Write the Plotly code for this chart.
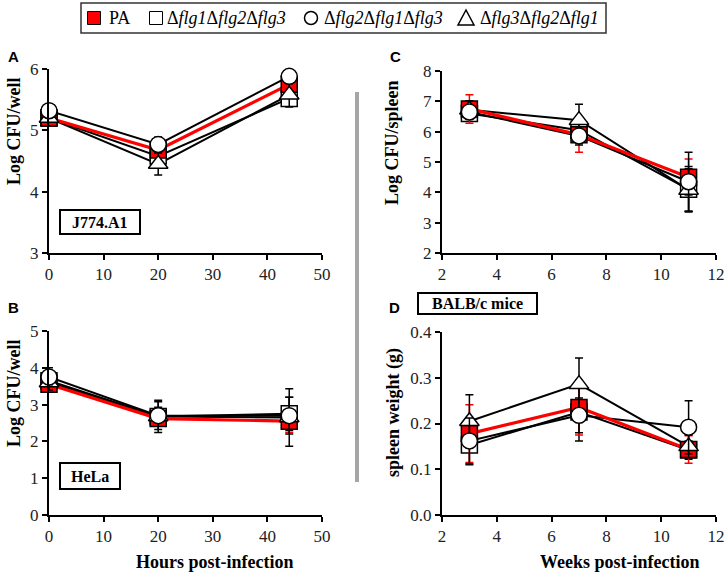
import plotly.graph_objects as go

W, H = 726, 573

# ---------------- data ----------------
series_names = ["PA", "Δ<i>flg1</i>Δ<i>flg2</i>Δ<i>flg3</i>",
                "Δ<i>flg2</i>Δ<i>flg1</i>Δ<i>flg3</i>", "Δ<i>flg3</i>Δ<i>flg2</i>Δ<i>flg1</i>"]

hours = [0, 20, 44]
weeks = [3, 7, 11]

# Panel A: J774.A1, Log CFU/well
a_pa = [5.20, 4.68, 5.75]
a_sq = [5.20, 4.58, 5.52]
a_ci = [5.32, 4.77, 5.88]
a_tr = [5.20, 4.45, 5.58]
a_pa_err = [0.08, 0.10, 0.10]
a_sq_err = [0.05, 0.10, 0.12]
a_ci_err = [0.05, 0.12, 0.10]
a_tr_err = [0.05, 0.18, 0.20]

# Panel B: HeLa, Log CFU/well
b_pa = [3.55, 2.62, 2.55]
b_sq = [3.65, 2.68, 2.75]
b_ci = [3.75, 2.70, 2.70]
b_tr = [3.60, 2.68, 2.65]
b_pa_err = [0.10, 0.20, 0.30]
b_sq_err = [0.15, 0.25, 0.45]
b_ci_err = [0.25, 0.38, 0.50]
b_tr_err = [0.20, 0.44, 0.78]

# Panel C: Log CFU/spleen
c_pa = [6.75, 5.90, 4.50]
c_sq = [6.60, 6.05, 4.10]
c_ci = [6.65, 5.86, 4.35]
c_tr = [6.72, 6.38, 4.08]
c_pa_err = [0.47, 0.58, 0.60]
c_sq_err = [0.20, 0.30, 0.75]
c_ci_err = [0.20, 0.30, 0.97]
c_tr_err = [0.30, 0.52, 0.70]

# Panel D: spleen weight (g)
d_pa = [0.178, 0.235, 0.143]
d_sq = [0.153, 0.225, 0.142]
d_ci = [0.162, 0.218, 0.192]
d_tr = [0.205, 0.286, 0.150]
d_pa_err = [0.063, 0.060, 0.030]
d_sq_err = [0.043, 0.063, 0.020]
d_ci_err = [0.050, 0.038, 0.058]
d_tr_err = [0.058, 0.057, 0.025]

# ---------------- styles ----------------
RED = "#ff0000"
styles = [
    dict(symbol="square", color=RED, size=16, line=RED, lw=3.2, ecol=RED),
    dict(symbol="square", color="white", size=16, line="black", lw=2, ecol="black"),
    dict(symbol="circle", color="white", size=16, line="black", lw=2, ecol="black"),
    dict(symbol="triangle-up", color="white", size=17, line="black", lw=2, ecol="black"),
]
draw_order = [1, 0, 3, 2]

fig = go.Figure()

def px_x(p):
    return p / W

def px_y(p):
    return 1 - p / H

panels = [
    dict(xa="x", ya="y", x=hours, data=[a_pa, a_sq, a_ci, a_tr], err=[a_pa_err, a_sq_err, a_ci_err, a_tr_err]),
    dict(xa="x2", ya="y2", x=hours, data=[b_pa, b_sq, b_ci, b_tr], err=[b_pa_err, b_sq_err, b_ci_err, b_tr_err]),
    dict(xa="x3", ya="y3", x=weeks, data=[c_pa, c_sq, c_ci, c_tr], err=[c_pa_err, c_sq_err, c_ci_err, c_tr_err]),
    dict(xa="x4", ya="y4", x=weeks, data=[d_pa, d_sq, d_ci, d_tr], err=[d_pa_err, d_sq_err, d_ci_err, d_tr_err]),
]

for pi, p in enumerate(panels):
    for si in [1, 2, 3, 0]:
        st = styles[si]
        fig.add_trace(go.Scatter(x=p["x"], y=p["data"][si], mode="lines", xaxis=p["xa"], yaxis=p["ya"],
                                 line=dict(color=st["line"], width=st["lw"]),
                                 showlegend=False, hoverinfo="skip", cliponaxis=False))
    for si in draw_order:
        st = styles[si]
        fig.add_trace(go.Scatter(
            x=p["x"], y=p["data"][si], mode="markers", xaxis=p["xa"], yaxis=p["ya"],
            name=series_names[si], showlegend=False,
            marker=dict(symbol=st["symbol"], size=st["size"], color=st["color"],
                        line=dict(color="black", width=1.5)),
            error_y=dict(type="data", array=p["err"][si], color=st["ecol"], thickness=1.5, width=4),
            cliponaxis=False))

axis_common = dict(showline=True, linecolor="black", linewidth=2, ticks="outside", ticklen=5,
                   tickwidth=2, tickcolor="black", showgrid=False, zeroline=False, automargin=False,
                   tickfont=dict(family="Liberation Serif", size=17, color="#222"))

xl = [px_x(49), px_x(322)]
xr = [px_x(442), px_x(716)]
fig.update_layout(
    xaxis=dict(domain=xl, range=[0, 50], dtick=10, anchor="y", **axis_common),
    yaxis=dict(domain=[px_y(253), px_y(69)], range=[3, 6], dtick=1, anchor="x", **axis_common),
    xaxis2=dict(domain=xl, range=[0, 50], dtick=10, anchor="y2", **axis_common),
    yaxis2=dict(domain=[px_y(515), px_y(331)], range=[0, 5], dtick=1, anchor="x2", **axis_common),
    xaxis3=dict(domain=xr, range=[2, 12], dtick=2, anchor="y3", **axis_common),
    yaxis3=dict(domain=[px_y(253), px_y(71)], range=[2, 8], dtick=1, anchor="x3", **axis_common),
    xaxis4=dict(domain=xr, range=[2, 12], dtick=2, anchor="y4", **axis_common),
    yaxis4=dict(domain=[px_y(515), px_y(332)], range=[0, 0.4], dtick=0.1, tickformat=".1f", anchor="x4", **axis_common),
)

fig.update_layout(
    width=W, height=H, margin=dict(l=0, r=0, t=0, b=0),
    paper_bgcolor="white", plot_bgcolor="white", showlegend=False,
)

ann = []
shapes = []
title_font = dict(family="Liberation Serif", size=18, color="black")
# y-axis titles
ann.append(dict(text="<b>Log CFU/well</b>", x=px_x(14), y=px_y(131), textangle=-90, font=title_font))
ann.append(dict(text="<b>Log CFU/well</b>", x=px_x(14), y=px_y(393), textangle=-90, font=title_font))
ann.append(dict(text="<b>Log CFU/spleen</b>", x=px_x(392), y=px_y(143), textangle=-90, font=title_font))
ann.append(dict(text="<b>spleen weight (g)</b>", x=px_x(393), y=px_y(413), textangle=-90, font=title_font))
# x-axis titles
ann.append(dict(text="<b>Hours post-infection</b>", x=px_x(215), y=px_y(562), font=title_font))
ann.append(dict(text="<b>Weeks post-infection</b>", x=px_x(620), y=px_y(562), font=title_font))
# panel letters
letter_font = dict(family="Liberation Sans", size=15, color="black")
for t, x, y in [("A", 13, 57), ("B", 13, 307), ("C", 395, 57), ("D", 394, 307)]:
    ann.append(dict(text="<b>%s</b>" % t, x=px_x(x), y=px_y(y), font=letter_font))
# boxed labels
box_font = dict(family="Liberation Serif", size=16, color="black")
for t, x0, x1, y0, y1 in [("J774.A1", 60, 140, 210, 234), ("HeLa", 60, 120, 463, 489),
                          ("BALB/c mice", 418, 537, 293, 314)]:
    ann.append(dict(text="<b>%s</b>" % t, x=px_x((x0 + x1) / 2), y=px_y((y0 + y1) / 2), font=box_font))
    shapes.append(dict(type="rect", xref="paper", yref="paper", x0=px_x(x0), x1=px_x(x1),
                       y0=px_y(y1), y1=px_y(y0), line=dict(color="black", width=2), fillcolor="white",
                       layer="below"))

# ---------------- legend (drawn manually) ----------------
leg_font = dict(family="Liberation Serif", size=18, color="black")
leg_y = 18
shapes.append(dict(type="rect", xref="paper", yref="paper", x0=px_x(81), x1=px_x(606),
                   y0=px_y(33), y1=px_y(3), line=dict(color="#333", width=1.5), fillcolor="white"))
leg_items = [(94, 107), (156, 165), (311, 322), (466, 478)]
for si, (cx, tx) in enumerate(leg_items):
    st = styles[si]
    h = 6.5
    if st["symbol"] == "square":
        shapes.append(dict(type="rect", xref="paper", yref="paper",
                           x0=px_x(cx - h), x1=px_x(cx + h), y0=px_y(leg_y + h), y1=px_y(leg_y - h),
                           line=dict(color="black", width=1), fillcolor=st["color"]))
    elif st["symbol"] == "circle":
        shapes.append(dict(type="circle", xref="paper", yref="paper",
                           x0=px_x(cx - h), x1=px_x(cx + h), y0=px_y(leg_y + h), y1=px_y(leg_y - h),
                           line=dict(color="black", width=1.5), fillcolor="white"))
    else:
        path = "M %f %f L %f %f L %f %f Z" % (px_x(cx - 8), px_y(leg_y + 7), px_x(cx + 8), px_y(leg_y + 7),
                                             px_x(cx), px_y(leg_y - 8))
        shapes.append(dict(type="path", xref="paper", yref="paper", path=path,
                           line=dict(color="black", width=1.5), fillcolor="white"))
    ann.append(dict(text=series_names[si], x=px_x(tx), y=px_y(leg_y), xanchor="left", font=leg_font))

# gray separator
shapes.append(dict(type="rect", xref="paper", yref="paper", x0=px_x(355), x1=px_x(359),
                   y0=px_y(482), y1=px_y(92), line=dict(width=0), fillcolor="#a6a6a6"))

for a in ann:
    a.update(xref="paper", yref="paper", showarrow=False, yanchor="middle")
    a.setdefault("xanchor", "center")
fig.update_layout(annotations=ann, shapes=shapes)

fig.write_html("out.html", config={"displayModeBar": False},
               post_script="document.body.style.margin='0px';")
